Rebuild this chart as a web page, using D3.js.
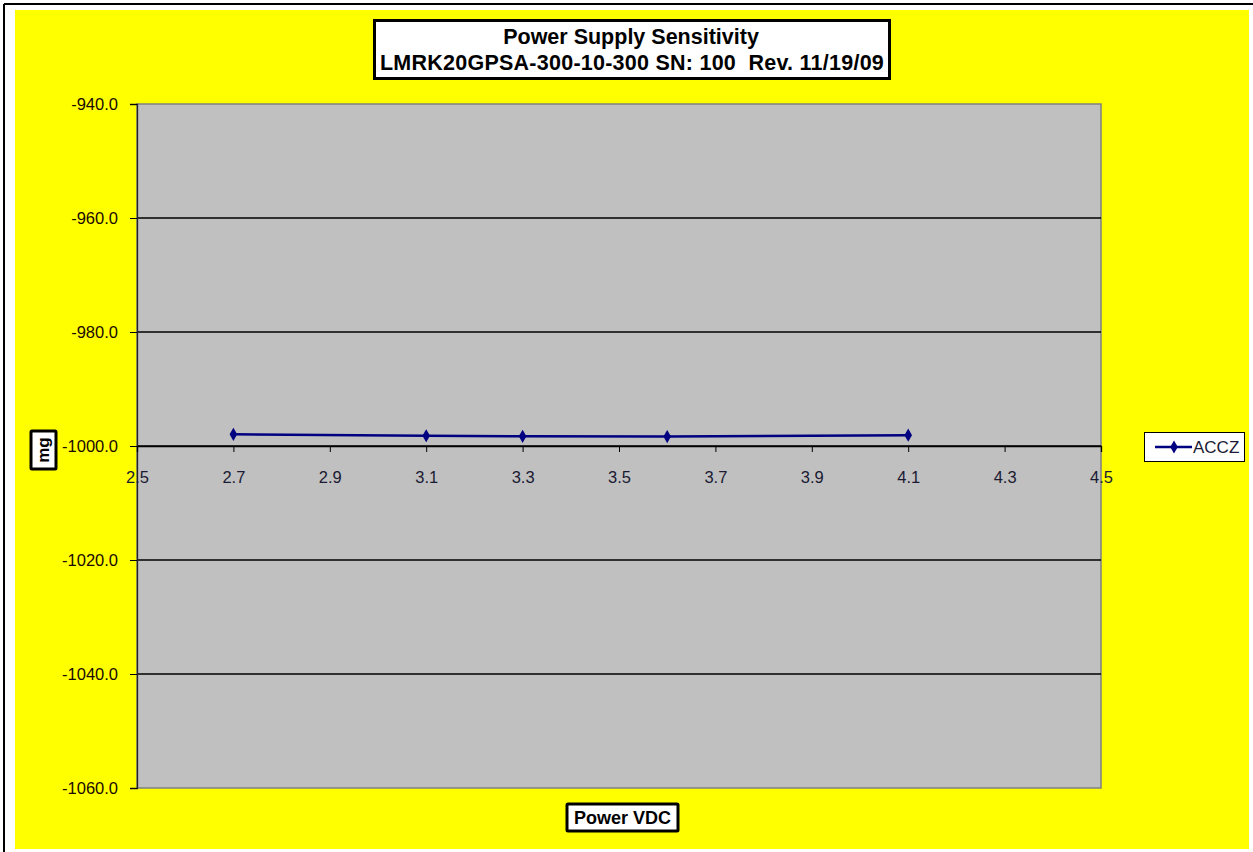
<!DOCTYPE html>
<html><head><meta charset="utf-8">
<script src="https://cdn.jsdelivr.net/npm/d3@7"></script>
<style>html,body{margin:0;padding:0;background:#fff;}svg{display:block;}text{white-space:pre;}</style>
</head><body>
<script>
const titleLines = ["Power Supply Sensitivity", "LMRK20GPSA-300-10-300 SN: 100  Rev. 11/19/09"];
const xLabel = "Power VDC";
const yLabel = "mg";
const seriesName = "ACCZ";
const voltages = [2.7, 3.1, 3.3, 3.6, 4.1];
const acczValues = [-997.95, -998.2, -998.3, -998.35, -998.1];
const xTicks = [2.5, 2.7, 2.9, 3.1, 3.3, 3.5, 3.7, 3.9, 4.1, 4.3, 4.5];
const yTicks = [-940, -960, -980, -1000, -1020, -1040, -1060];

const W = 1253, H = 852;
const svg = d3.select("body").append("svg").attr("width", W).attr("height", H);
const font = "Arial, 'Liberation Sans', sans-serif";

// outer frame
svg.append("rect").attr("x",0).attr("y",0).attr("width",W).attr("height",H).attr("fill","#fff");
svg.append("line").attr("x1",4).attr("x2",W).attr("y1",4).attr("y2",4).attr("stroke","#000").attr("stroke-width",2);
svg.append("line").attr("x1",4).attr("x2",4).attr("y1",4).attr("y2",H).attr("stroke","#000").attr("stroke-width",2);
svg.append("rect").attr("x",15).attr("y",10).attr("width",1234).attr("height",839).attr("fill","#ffff00");

const pl = 137, pr = 1101, pt = 104, pb = 788;
const x = d3.scaleLinear().domain([2.5, 4.5]).range([pl, pr]);
const y = d3.scaleLinear().domain([-1060, -940]).range([pb, pt]);

// plot area
svg.append("rect").attr("x",pl).attr("y",pt).attr("width",pr-pl).attr("height",pb-pt)
  .attr("fill","#c0c0c0").attr("stroke","#808080").attr("stroke-width",1.5);

// gridlines
svg.append("g").selectAll("line").data(yTicks.filter(d => d !== -940 && d !== -1060)).join("line")
  .attr("x1",pl).attr("x2",pr).attr("y1",d=>y(d)).attr("y2",d=>y(d))
  .attr("stroke","#000").attr("stroke-width",1.3);

// y axis
const yAxis = d3.axisLeft(y).tickValues(yTicks).tickFormat(d3.format(".1f")).tickSize(7).tickPadding(12);
const gy = svg.append("g").attr("transform",`translate(${pl},0)`).call(yAxis);
gy.select(".domain").attr("stroke","#222").attr("stroke-width",1.3);
gy.selectAll(".tick line").attr("stroke","#000");
gy.selectAll("text").attr("font-family",font).attr("font-size",16.5).attr("fill","#1a0a00")
  .text(d => d3.format(".1f")(d).replace("−","-"));

// x axis at y=-1000
const xAxis = d3.axisBottom(x).tickValues(xTicks).tickFormat(d3.format(".1f")).tickSize(6).tickPadding(19);
const gx = svg.append("g").attr("transform",`translate(0,${y(-1000)})`).call(xAxis);
gx.select(".domain").attr("stroke","#000").attr("stroke-width",1.3);
gx.selectAll(".tick line").attr("stroke","#000");
gx.selectAll("text").attr("font-family",font).attr("font-size",16.5).attr("fill","#1a1a33");

// series
const pts = voltages.map((v,i)=>[v, acczValues[i]]);
svg.append("path").datum(pts)
  .attr("d", d3.line().x(d=>x(d[0])).y(d=>y(d[1])))
  .attr("fill","none").attr("stroke","#000080").attr("stroke-width",2.5);
const diamond = d3.symbol().type(d3.symbolDiamond).size(50);
svg.append("g").selectAll("path").data(pts).join("path")
  .attr("transform", d=>`translate(${x(d[0])},${y(d[1])})`)
  .attr("d", diamond).attr("fill","#000080");

// title box
svg.append("rect").attr("x",374.5).attr("y",20.5).attr("width",515).attr("height",58)
  .attr("fill","#fff").attr("stroke","#000").attr("stroke-width",3);
svg.append("text").attr("x",631).attr("y",44).attr("text-anchor","middle")
  .attr("font-family",font).attr("font-weight","bold").attr("font-size",21.5).text(titleLines[0]);
svg.append("text").attr("x",632).attr("y",70).attr("text-anchor","middle")
  .attr("font-family",font).attr("font-weight","bold").attr("font-size",21.5)
  .attr("letter-spacing",0.25).text(titleLines[1]);

// x label
svg.append("rect").attr("x",567).attr("y",804).attr("width",111).attr("height",27)
  .attr("fill","#fff").attr("stroke","#000").attr("stroke-width",3).attr("rx",1);
svg.append("text").attr("x",622.5).attr("y",824).attr("text-anchor","middle")
  .attr("font-family",font).attr("font-size",18).attr("font-weight","600").text(xLabel);

// y label
svg.append("rect").attr("x",31).attr("y",431).attr("width",25).attr("height",38)
  .attr("fill","#fff").attr("stroke","#000").attr("stroke-width",3).attr("rx",1);
svg.append("text").attr("transform","translate(49,450) rotate(-90)").attr("text-anchor","middle")
  .attr("font-family",font).attr("font-weight","bold").attr("font-size",17).text(yLabel);

// legend
svg.append("rect").attr("x",1144.5).attr("y",432.5).attr("width",100).attr("height",29)
  .attr("fill","#fff").attr("stroke","#000").attr("stroke-width",1);
svg.append("line").attr("x1",1155).attr("x2",1192).attr("y1",447).attr("y2",447)
  .attr("stroke","#000080").attr("stroke-width",2.5);
svg.append("path").attr("transform","translate(1174,447)").attr("d",diamond).attr("fill","#000080");
svg.append("text").attr("x",1193).attr("y",453).attr("font-family",font).attr("font-size",17)
  .attr("fill","#1a1a33").text(seriesName);
</script>
</body></html>
